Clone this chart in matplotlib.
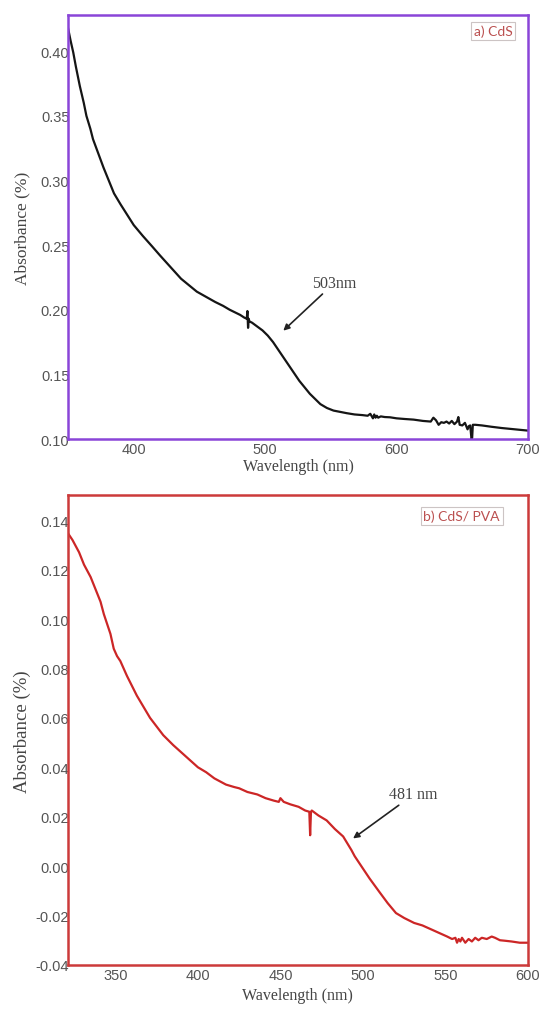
from matplotlib import pyplot as plt

# a) CdS
wl_a = [350, 352, 354, 356, 359, 362, 364, 367, 369, 373, 377, 381, 385, 390,
        395, 400, 407, 414, 420, 428, 436, 442, 448, 455, 462, 468, 473, 477,
        481, 484, 486, 486.5, 487, 487.5, 488, 490, 494, 498, 502, 506, 510,
        514, 518, 522, 526, 530, 534, 538, 542, 547, 552, 557, 562, 568, 574,
        578, 580, 582, 583, 584, 585, 586, 588, 591, 595, 600, 606, 613, 620,
        626, 628, 630, 632, 634, 636, 638, 640, 642, 644, 646, 647, 648, 650,
        652, 654, 655, 656, 657, 657.5, 658, 660, 665, 672, 680, 690, 700]
abs_a = [0.418, 0.408, 0.399, 0.388, 0.373, 0.360, 0.350, 0.340, 0.332, 0.321,
         0.310, 0.300, 0.290, 0.2815, 0.2735, 0.2655, 0.257, 0.249, 0.242,
         0.233, 0.224, 0.219, 0.214, 0.210, 0.206, 0.203, 0.200, 0.198, 0.196,
         0.194, 0.193, 0.199, 0.186, 0.193, 0.191, 0.190, 0.187, 0.184, 0.180,
         0.175, 0.169, 0.163, 0.157, 0.151, 0.145, 0.140, 0.135, 0.131, 0.127,
         0.124, 0.122, 0.121, 0.120, 0.119, 0.1185, 0.118, 0.1195, 0.116,
         0.119, 0.1165, 0.118, 0.1165, 0.1175, 0.117, 0.1168, 0.116, 0.1155,
         0.115, 0.114, 0.1135, 0.1165, 0.1145, 0.111, 0.113, 0.1125, 0.1135,
         0.112, 0.114, 0.1115, 0.1135, 0.117, 0.111, 0.1105, 0.1125, 0.1075,
         0.110, 0.1105, 0.100, 0.101, 0.111, 0.111, 0.1105, 0.1095, 0.1085,
         0.1075, 0.1065]

# b) CdS / PVA
wl_b = [321, 324, 328, 331, 335, 338, 341, 343, 345, 347, 349, 351, 353, 357,
        363, 371, 379, 385, 390, 395, 400, 405, 410, 417, 422, 425, 430, 436,
        441, 446, 449, 450, 452, 456, 461, 465, 467.5, 468, 468.5, 469, 470,
        473, 478, 483, 488, 493, 495, 499, 504, 510, 515, 520, 525, 531, 536,
        541, 546, 551, 554, 556, 557, 558, 559, 560, 562, 564, 566, 568, 570,
        572, 575, 578, 580, 583, 586, 590, 595, 600]
abs_b = [0.135, 0.132, 0.127, 0.122, 0.117, 0.112, 0.107, 0.102, 0.098, 0.094,
         0.088, 0.085, 0.083, 0.077, 0.069, 0.060, 0.053, 0.049, 0.046, 0.043,
         0.040, 0.038, 0.0355, 0.033, 0.032, 0.0315, 0.030, 0.029, 0.0275,
         0.0265, 0.026, 0.0275, 0.026, 0.025, 0.024, 0.0225, 0.022, 0.0125,
         0.022, 0.0225, 0.022, 0.0205, 0.0185, 0.015, 0.012, 0.0065, 0.004,
         0.000, -0.005, -0.0105, -0.015, -0.019, -0.021, -0.023, -0.024,
         -0.0255, -0.027, -0.0285, -0.0295, -0.029, -0.031, -0.0295, -0.0305,
         -0.029, -0.031, -0.0295, -0.0305, -0.029, -0.030, -0.029, -0.0295,
         -0.0285, -0.029, -0.030, -0.0302, -0.0305, -0.031, -0.031]

xticks_a = [400, 500, 600, 700]
yticks_a = [0.10, 0.15, 0.20, 0.25, 0.30, 0.35, 0.40]
xticks_b = [350, 400, 450, 500, 550, 600]
yticks_b = [-0.04, -0.02, 0.00, 0.02, 0.04, 0.06, 0.08, 0.10, 0.12, 0.14]


def panel(ax, x, y, color, spine_color, xlim, ylim, xt, yt, tag, tag_xy,
          note, note_xy, note_from, ylab_x, xlab_y, ylab_size):
    ax.plot(x, y, color=color, lw=1.6)
    ax.set_xlim(*xlim)
    ax.set_ylim(*ylim)
    ax.set_xticks(xt)
    ax.set_yticks(yt)
    ax.set_yticklabels(['%.2f' % v for v in yt])
    ax.tick_params(length=0, labelsize=10.5, labelcolor='#555555',
                   labelfontfamily='Liberation Sans')
    ax.tick_params(axis='y', pad=-1)
    ax.tick_params(axis='x', pad=2)
    for s in ax.spines.values():
        s.set_color(spine_color)
        s.set_linewidth(1.8)
    ax.set_xlabel('Wavelength (nm)', family='Liberation Serif', fontsize=11.5,
                  color='#444444', va='center')
    ax.set_ylabel('Absorbance (%)', family='Liberation Serif',
                  fontsize=ylab_size, color='#444444', va='center')
    ax.xaxis.set_label_coords(0.5, xlab_y)
    ax.yaxis.set_label_coords(ylab_x, 0.5)
    ax.text(tag_xy[0], tag_xy[1], tag, transform=ax.transAxes, ha='center',
            va='center', family='Lato', fontsize=10, color='#bb5050',
            bbox=dict(boxstyle='square,pad=0.2', fc='white', ec='#ccc4c4',
                      lw=0.8))
    ax.annotate(note, xy=note_xy, xytext=note_from, family='Liberation Serif',
                fontsize=11.5, color='#444444', va='center',
                arrowprops=dict(arrowstyle='-|>', color='#222222', lw=1.2,
                                shrinkA=0, shrinkB=0, mutation_scale=9))


def main():
    plt.rcParams['axes.unicode_minus'] = False
    fig = plt.figure(figsize=(5.41, 10.12), dpi=100)
    ax1 = fig.add_axes([0.1257, 0.5652, 0.8503, 0.419])
    ax2 = fig.add_axes([0.1248, 0.0455, 0.8512, 0.4639])

    panel(ax1, wl_a, abs_a, '#151515', '#8a45d8', (350, 700), (0.10, 0.428),
          xticks_a, yticks_a, 'a) CdS', (0.924, 0.963),
          '503nm', (513.8, 0.1838), (535.5, 0.2205), -0.1, -0.063, 12.5)
    panel(ax2, wl_b, abs_b, '#cc2626', '#cc3a3a', (321, 600), (-0.04, 0.15),
          xticks_b, yticks_b, 'b) CdS/ PVA', (0.856, 0.956),
          '481 nm', (494, 0.0112), (516, 0.0290), -0.099, -0.064, 13.5)

    fig.savefig('out.png', dpi=100)


if __name__ == "__main__":
    main()
